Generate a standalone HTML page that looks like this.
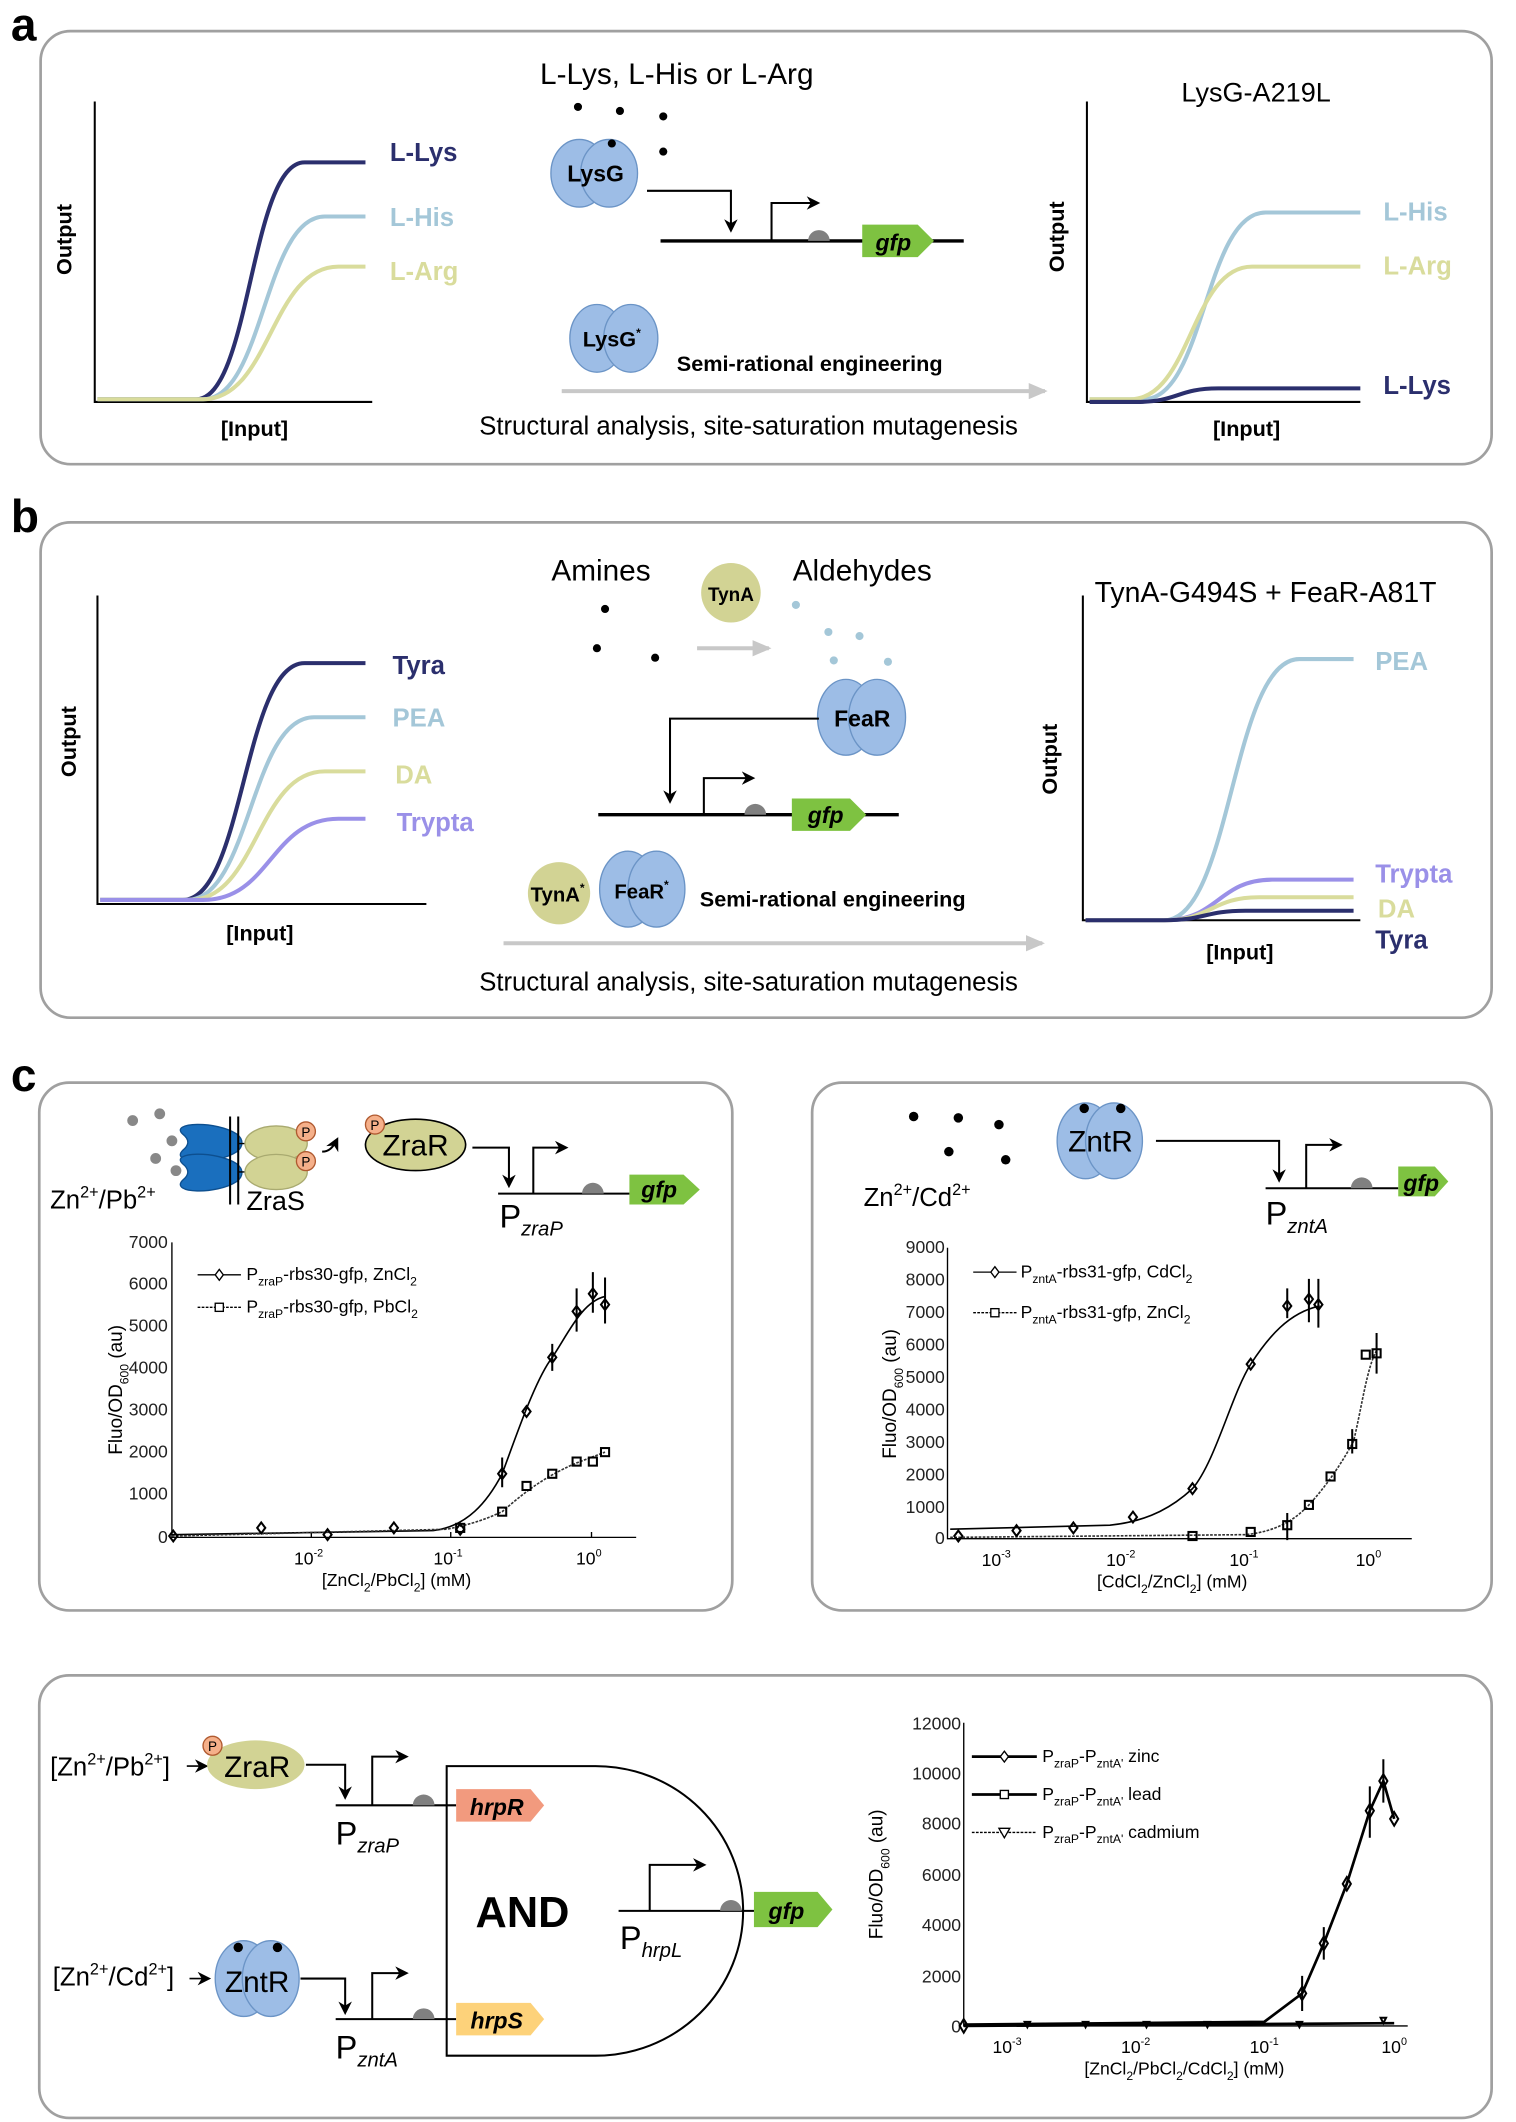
<!DOCTYPE html>
<html><head><meta charset="utf-8"><style>
html,body{margin:0;padding:0;background:#fff;}
svg{display:block;}
text{font-family:"Liberation Sans",Arial,sans-serif;}
</style></head><body>
<svg width="1516" height="2122" viewBox="0 0 1120 1568" preserveAspectRatio="none" xmlns="http://www.w3.org/2000/svg">
<defs>
<marker id="ah" markerWidth="10" markerHeight="10" refX="8" refY="5" orient="auto" markerUnits="userSpaceOnUse"><path d="M0,0 L10,5 L0,10 L3,5 z" fill="#000"/></marker>
<marker id="ahg" markerWidth="14" markerHeight="12" refX="12" refY="6" orient="auto" markerUnits="userSpaceOnUse"><path d="M0,0 L14,6 L0,12 z" fill="#c8c8c8"/></marker>
</defs>

<!-- PANEL A -->
<text x="8" y="30" font-size="34" font-weight="bold">a</text>
<rect x="30" y="23" width="1072" height="320" rx="22" fill="none" stroke="#a0a0a0" stroke-width="2"/>
<g stroke="#000" stroke-width="1.5" fill="none"><path d="M70,75 V297 H275"/></g>
<text transform="translate(53,177) rotate(-90)" text-anchor="middle" font-size="16" font-weight="bold">Output</text>
<text x="188" y="322" text-anchor="middle" font-size="16" font-weight="bold">[Input]</text>
<g fill="none" stroke-width="3">
<path d="M72,295 L145,295 C185,295 185,120 225,120 L270,120" stroke="#2b2f6d"/>
<path d="M72,295 L150,295 C195,295 195,160 240,160 L270,160" stroke="#a4c7d8"/>
<path d="M72,295 L150,295 C200,295 200,197 250,197 L270,197" stroke="#d9dc9c"/>
</g>
<text x="288" y="119" font-size="19" font-weight="bold" fill="#2b2f6d">L-Lys</text>
<text x="288" y="167" font-size="19" font-weight="bold" fill="#a4c7d8">L-His</text>
<text x="288" y="207" font-size="19" font-weight="bold" fill="#d9dc9c">L-Arg</text>

<text x="500" y="62" text-anchor="middle" font-size="22">L-Lys, L-His or L-Arg</text>
<g fill="#000"><circle cx="427" cy="79" r="3"/><circle cx="458" cy="82" r="3"/><circle cx="490" cy="86" r="3"/><circle cx="490" cy="112" r="3"/></g>
<g fill="#9dbde6" stroke="#6b94c6" stroke-width="1"><ellipse cx="428" cy="128" rx="21" ry="25"/><ellipse cx="450" cy="128" rx="21" ry="25"/></g>
<circle cx="452" cy="106" r="3"/>
<text x="440" y="134" text-anchor="middle" font-size="17" font-weight="bold">LysG</text>
<path d="M478,141 H540 V170" fill="none" stroke="#000" stroke-width="1.5" marker-end="url(#ah)"/>
<path d="M488,178 H712" stroke="#000" stroke-width="2.5"/>
<path d="M570,178 V150 H604" fill="none" stroke="#000" stroke-width="1.5" marker-end="url(#ah)"/>
<path d="M597,178 A8,8 0 0 1 613,178 z" fill="#808080"/>
<path d="M637,166 H678 L690,178 L678,190 H637 z" fill="#7ec241"/>
<text x="660" y="185" text-anchor="middle" font-size="17" font-weight="bold" font-style="italic">gfp</text>
<g fill="#9dbde6" stroke="#6b94c6"><ellipse cx="441" cy="250" rx="20" ry="25"/><ellipse cx="466" cy="250" rx="20" ry="25"/></g>
<text x="452" y="256" text-anchor="middle" font-size="16" font-weight="bold">LysG<tspan font-size="9" dy="-7">*</tspan></text>
<text x="500" y="274" font-size="16" font-weight="bold">Semi-rational engineering</text>
<path d="M415,289 H772" stroke="#c8c8c8" stroke-width="3" marker-end="url(#ahg)"/>
<text x="553" y="321" text-anchor="middle" font-size="19">Structural analysis, site-saturation mutagenesis</text>

<text x="928" y="75" text-anchor="middle" font-size="20">LysG-A219L</text>
<path d="M803,75 V297 H1005" fill="none" stroke="#000" stroke-width="1.5"/>
<text transform="translate(786,175) rotate(-90)" text-anchor="middle" font-size="16" font-weight="bold">Output</text>
<text x="921" y="322" text-anchor="middle" font-size="16" font-weight="bold">[Input]</text>
<g fill="none" stroke-width="3">
<path d="M805,295 L845,295 C890,295 890,157 935,157 L1005,157" stroke="#a4c7d8"/>
<path d="M805,295 L835,295 C880,295 880,197 925,197 L1005,197" stroke="#d9dc9c"/>
<path d="M805,297 L840,297 C870,297 870,287 900,287 L1005,287" stroke="#2b2f6d"/>
</g>
<text x="1022" y="163" font-size="19" font-weight="bold" fill="#a4c7d8">L-His</text>
<text x="1022" y="203" font-size="19" font-weight="bold" fill="#d9dc9c">L-Arg</text>
<text x="1022" y="291" font-size="19" font-weight="bold" fill="#2b2f6d">L-Lys</text>

<!-- PANEL B -->
<text x="8" y="393" font-size="34" font-weight="bold">b</text>
<rect x="30" y="386" width="1072" height="366" rx="22" fill="none" stroke="#a0a0a0" stroke-width="2"/>
<path d="M72,440 V668 H315" fill="none" stroke="#000" stroke-width="1.5"/>
<text transform="translate(56,548) rotate(-90)" text-anchor="middle" font-size="16" font-weight="bold">Output</text>
<text x="192" y="695" text-anchor="middle" font-size="16" font-weight="bold">[Input]</text>
<g fill="none" stroke-width="3">
<path d="M74,665 L135,665 C180,665 180,490 225,490 L270,490" stroke="#2b2f6d"/>
<path d="M74,665 L138,665 C185,665 185,530 232,530 L270,530" stroke="#a4c7d8"/>
<path d="M74,665 L140,665 C190,665 190,570 240,570 L270,570" stroke="#d9dc9c"/>
<path d="M74,665 L150,665 C200,665 200,605 250,605 L270,605" stroke="#9a90e8"/>
</g>
<text x="290" y="498" font-size="19" font-weight="bold" fill="#2b2f6d">Tyra</text>
<text x="290" y="537" font-size="19" font-weight="bold" fill="#a4c7d8">PEA</text>
<text x="292" y="579" font-size="19" font-weight="bold" fill="#d9dc9c">DA</text>
<text x="293" y="614" font-size="19" font-weight="bold" fill="#9a90e8">Trypta</text>

<text x="444" y="429" text-anchor="middle" font-size="22">Amines</text>
<text x="637" y="429" text-anchor="middle" font-size="22">Aldehydes</text>
<g fill="#000"><circle cx="447" cy="450" r="3"/><circle cx="441" cy="479" r="3"/><circle cx="484" cy="486" r="3"/></g>
<circle cx="540" cy="438" r="22" fill="#d2d394"/>
<text x="540" y="444" text-anchor="middle" font-size="14" font-weight="bold">TynA</text>
<path d="M515,479 H568" stroke="#c8c8c8" stroke-width="3" marker-end="url(#ahg)"/>
<g fill="#a4c7d8"><circle cx="588" cy="447" r="3"/><circle cx="612" cy="467" r="3"/><circle cx="635" cy="470" r="3"/><circle cx="616" cy="488" r="3"/><circle cx="656" cy="489" r="3"/></g>
<g fill="#9dbde6" stroke="#6b94c6"><ellipse cx="625" cy="530" rx="21" ry="28"/><ellipse cx="648" cy="530" rx="21" ry="28"/></g>
<text x="637" y="537" text-anchor="middle" font-size="17" font-weight="bold">FeaR</text>
<path d="M605,531 H495 V592" fill="none" stroke="#000" stroke-width="1.5" marker-end="url(#ah)"/>
<path d="M442,602 H664" stroke="#000" stroke-width="2.5"/>
<path d="M520,602 V575 H556" fill="none" stroke="#000" stroke-width="1.5" marker-end="url(#ah)"/>
<path d="M550,602 A8,8 0 0 1 566,602 z" fill="#808080"/>
<path d="M585,590 H628 L640,602 L628,614 H585 z" fill="#7ec241"/>
<text x="610" y="608" text-anchor="middle" font-size="17" font-weight="bold" font-style="italic">gfp</text>
<circle cx="413" cy="660" r="23" fill="#d2d394"/>
<text x="412" y="666" text-anchor="middle" font-size="15" font-weight="bold">TynA<tspan font-size="9" dy="-7">*</tspan></text>
<g fill="#9dbde6" stroke="#6b94c6"><ellipse cx="464" cy="657" rx="21" ry="28"/><ellipse cx="485" cy="657" rx="21" ry="28"/></g>
<text x="474" y="664" text-anchor="middle" font-size="15" font-weight="bold">FeaR<tspan font-size="9" dy="-7">*</tspan></text>
<text x="517" y="670" font-size="16" font-weight="bold">Semi-rational engineering</text>
<path d="M372,697 H770" stroke="#c8c8c8" stroke-width="3" marker-end="url(#ahg)"/>
<text x="553" y="732" text-anchor="middle" font-size="19">Structural analysis, site-saturation mutagenesis</text>

<text x="935" y="445" text-anchor="middle" font-size="21">TynA-G494S + FeaR-A81T</text>
<path d="M800,440 V680 H1005" fill="none" stroke="#000" stroke-width="1.5"/>
<text transform="translate(781,561) rotate(-90)" text-anchor="middle" font-size="16" font-weight="bold">Output</text>
<text x="916" y="709" text-anchor="middle" font-size="16" font-weight="bold">[Input]</text>
<g fill="none" stroke-width="3">
<path d="M802,680 L860,680 C910,680 910,487 960,487 L1000,487" stroke="#a4c7d8"/>
<path d="M802,680 L860,680 C900,680 900,650 940,650 L1000,650" stroke="#9a90e8"/>
<path d="M802,680 L860,680 C895,680 895,663 930,663 L1000,663" stroke="#d9dc9c"/>
<path d="M802,680 L860,680 C890,680 890,673 920,673 L1000,673" stroke="#2b2f6d"/>
</g>
<text x="1016" y="495" font-size="19" font-weight="bold" fill="#a4c7d8">PEA</text>
<text x="1016" y="652" font-size="19" font-weight="bold" fill="#9a90e8">Trypta</text>
<text x="1018" y="678" font-size="19" font-weight="bold" fill="#d9dc9c">DA</text>
<text x="1016" y="701" font-size="19" font-weight="bold" fill="#2b2f6d">Tyra</text>

<!-- PANEL C -->
<text x="8" y="806" font-size="34" font-weight="bold">c</text>
<rect x="29" y="800" width="512" height="390" rx="22" fill="none" stroke="#a0a0a0" stroke-width="2"/>
<rect x="600" y="800" width="502" height="390" rx="22" fill="none" stroke="#a0a0a0" stroke-width="2"/>

<!-- c left diagram -->
<g fill="#888"><circle cx="98" cy="828" r="4"/><circle cx="118" cy="823" r="4"/><circle cx="127" cy="843" r="4"/><circle cx="115" cy="856" r="4"/><circle cx="130" cy="865" r="4"/></g>
<path d="M135,838 C125,829 160,828 175,838 C180,842 180,847 175,851 C160,861 125,860 135,850 C140,846 140,842 135,838z" fill="#1a6fbe" stroke="#0d4f8f"/>
<path d="M135,860 C125,851 160,850 175,860 C180,864 180,869 175,873 C160,883 125,882 135,872 C140,868 140,864 135,860z" fill="#1a6fbe" stroke="#0d4f8f"/>
<path d="M170,825 V890 M176,825 V890" stroke="#000" stroke-width="1.5"/>
<path d="M176,845 H183 M176,866 H183" stroke="#000"/>
<ellipse cx="204" cy="845" rx="23" ry="13" fill="#d2d394" stroke="#a9aa70"/>
<ellipse cx="204" cy="866" rx="23" ry="13" fill="#d2d394" stroke="#a9aa70"/>
<circle cx="226" cy="836" r="7" fill="#f5b08a" stroke="#b05a30"/><text x="226" y="840" text-anchor="middle" font-size="10">P</text>
<circle cx="226" cy="858" r="7" fill="#f5b08a" stroke="#b05a30"/><text x="226" y="862" text-anchor="middle" font-size="10">P</text>
<text x="37" y="893" font-size="19">Zn<tspan font-size="12" dy="-8">2+</tspan><tspan dy="8">/Pb</tspan><tspan font-size="12" dy="-8">2+</tspan></text>
<text x="182" y="894" font-size="20">ZraS</text>
<path d="M238,851 C243,851 246,848 249,842" fill="none" stroke="#000" stroke-width="1.5" marker-end="url(#ah)"/>
<ellipse cx="307" cy="846" rx="37" ry="19" fill="#d2d394" stroke="#000" stroke-width="1.2"/>
<circle cx="277" cy="831" r="7" fill="#f5b08a" stroke="#b05a30"/><text x="277" y="835" text-anchor="middle" font-size="10">P</text>
<text x="307" y="854" text-anchor="middle" font-size="22">ZraR</text>
<path d="M349,848 H376 V876" fill="none" stroke="#000" stroke-width="1.5" marker-end="url(#ah)"/>
<path d="M368,882 H465" stroke="#000" stroke-width="1.5"/>
<path d="M394,882 V848 H418" fill="none" stroke="#000" stroke-width="1.5" marker-end="url(#ah)"/>
<path d="M430,882 A8,8 0 0 1 446,882 z" fill="#808080"/>
<path d="M465,868 H505 L517,879 L505,890 H465 z" fill="#7ec241"/>
<text x="487" y="885" text-anchor="middle" font-size="17" font-weight="bold" font-style="italic">gfp</text>
<text x="369" y="907" font-size="24">P<tspan font-size="15" font-style="italic" dy="6">zraP</tspan></text>

<!-- c left graph -->
<g font-size="13" fill="#222" text-anchor="end">
<text x="124" y="922">7000</text><text x="124" y="953">6000</text><text x="124" y="984">5000</text><text x="124" y="1015">4000</text><text x="124" y="1046">3000</text><text x="124" y="1077">2000</text><text x="124" y="1108">1000</text><text x="124" y="1140">0</text>
</g>
<path d="M127,918 V1136 H470" fill="none" stroke="#000" stroke-width="1"/>
<g stroke="#000"><path d="M230,1136 v-4 M333,1136 v-4 M437,1136 v-4"/></g>
<g font-size="13" text-anchor="middle"><text x="228" y="1156">10<tspan font-size="8" dy="-6">-2</tspan></text><text x="331" y="1156">10<tspan font-size="8" dy="-6">-1</tspan></text><text x="435" y="1156">10<tspan font-size="8" dy="-6">0</tspan></text></g>
<text x="293" y="1172" text-anchor="middle" font-size="13">[ZnCl<tspan font-size="9" dy="4">2</tspan><tspan dy="-4">/PbCl</tspan><tspan font-size="9" dy="4">2</tspan><tspan dy="-4">] (mM)</tspan></text>
<text transform="translate(90,1027) rotate(-90)" text-anchor="middle" font-size="14">Fluo/OD<tspan font-size="9" dy="5">600</tspan><tspan dy="-5"> (au)</tspan></text>
<path d="M127,1134 L320,1131 C345,1128 360,1110 371,1089 C380,1065 395,1020 408,1003 C420,985 430,962 447,958" fill="none" stroke="#000" stroke-width="1.2"/>
<path d="M127,1135 L330,1130 C350,1126 360,1122 371,1117 C385,1105 400,1092 426,1081 L447,1073" fill="none" stroke="#333" stroke-width="1.2" stroke-dasharray="2,1"/>
<g fill="none" stroke="#000" stroke-width="1.5">
<path d="M128,1131 l3,4 -3,4 -3,-4z M193,1125 l3,4 -3,4 -3,-4z M242,1130 l3,4 -3,4 -3,-4z M291,1125 l3,4 -3,4 -3,-4z M340,1126 l3,4 -3,4 -3,-4z M371,1085 l3,4 -3,4 -3,-4z M389,1039 l3,4 -3,4 -3,-4z M408,999 l3,4 -3,4 -3,-4z M426,965 l3,4 -3,4 -3,-4z M438,952 l3,4 -3,4 -3,-4z M447,960 l3,4 -3,4 -3,-4z"/>
<path d="M371,1077 v22 M408,993 v20 M426,952 v32 M438,940 v30 M447,944 v34"/>
<rect x="368" y="1114" width="6" height="6"/><rect x="386" y="1095" width="6" height="6"/><rect x="405" y="1086" width="6" height="6"/><rect x="423" y="1077" width="6" height="6"/><rect x="435" y="1077" width="6" height="6"/><rect x="444" y="1070" width="6" height="6"/><rect x="337" y="1126" width="6" height="6"/>
</g>
<g font-size="13"><path d="M146,942 H178" stroke="#000"/><path d="M162,938 l3,4 -3,4 -3,-4z" fill="#fff" stroke="#000"/>
<text x="182" y="946">P<tspan font-size="9" dy="4">zraP</tspan><tspan dy="-4">-rbs30-gfp, ZnCl</tspan><tspan font-size="9" dy="4">2</tspan></text>
<path d="M146,966 H178" stroke="#000" stroke-dasharray="2,1"/><rect x="159" y="963" width="6" height="6" fill="#fff" stroke="#000"/>
<text x="182" y="970">P<tspan font-size="9" dy="4">zraP</tspan><tspan dy="-4">-rbs30-gfp, PbCl</tspan><tspan font-size="9" dy="4">2</tspan></text></g>

<!-- c right diagram -->
<g fill="#000"><circle cx="675" cy="825" r="3.5"/><circle cx="708" cy="826" r="3.5"/><circle cx="738" cy="831" r="3.5"/><circle cx="701" cy="851" r="3.5"/><circle cx="743" cy="857" r="3.5"/></g>
<text x="638" y="891" font-size="19">Zn<tspan font-size="12" dy="-8">2+</tspan><tspan dy="8">/Cd</tspan><tspan font-size="12" dy="-8">2+</tspan></text>
<g fill="#9dbde6" stroke="#6b94c6"><ellipse cx="802" cy="843" rx="21" ry="28"/><ellipse cx="823" cy="843" rx="21" ry="28"/></g>
<circle cx="801" cy="819" r="3.5"/><circle cx="828" cy="819" r="3.5"/>
<text x="813" y="851" text-anchor="middle" font-size="22">ZntR</text>
<path d="M854,843 H945 V872" fill="none" stroke="#000" stroke-width="1.5" marker-end="url(#ah)"/>
<path d="M935,878 H1033" stroke="#000" stroke-width="1.5"/>
<path d="M965,878 V846 H990" fill="none" stroke="#000" stroke-width="1.5" marker-end="url(#ah)"/>
<path d="M998,878 A8,8 0 0 1 1014,878 z" fill="#808080"/>
<path d="M1033,862 H1060 L1070,873 L1060,884 H1033 z" fill="#7ec241"/>
<text x="1050" y="880" text-anchor="middle" font-size="17" font-weight="bold" font-style="italic">gfp</text>
<text x="935" y="905" font-size="24">P<tspan font-size="15" font-style="italic" dy="6">zntA</tspan></text>

<g font-size="13" fill="#222" text-anchor="end">
<text x="698" y="926">9000</text><text x="698" y="950">8000</text><text x="698" y="974">7000</text><text x="698" y="998">6000</text><text x="698" y="1022">5000</text><text x="698" y="1046">4000</text><text x="698" y="1070">3000</text><text x="698" y="1094">2000</text><text x="698" y="1118">1000</text><text x="698" y="1141">0</text>
</g>
<path d="M700,922 V1137 H1043" fill="none" stroke="#000" stroke-width="1"/>
<g font-size="13" text-anchor="middle"><text x="736" y="1157">10<tspan font-size="8" dy="-6">-3</tspan></text><text x="828" y="1157">10<tspan font-size="8" dy="-6">-2</tspan></text><text x="919" y="1157">10<tspan font-size="8" dy="-6">-1</tspan></text><text x="1011" y="1157">10<tspan font-size="8" dy="-6">0</tspan></text></g>
<text x="866" y="1173" text-anchor="middle" font-size="13">[CdCl<tspan font-size="9" dy="4">2</tspan><tspan dy="-4">/ZnCl</tspan><tspan font-size="9" dy="4">2</tspan><tspan dy="-4">] (mM)</tspan></text>
<text transform="translate(662,1030) rotate(-90)" text-anchor="middle" font-size="14">Fluo/OD<tspan font-size="9" dy="5">600</tspan><tspan dy="-5"> (au)</tspan></text>
<path d="M702,1130 L820,1127 C850,1124 868,1112 881,1100 C898,1080 910,1030 924,1008 C937,988 952,970 975,965" fill="none" stroke="#000" stroke-width="1.2"/>
<path d="M702,1136 L920,1134 C940,1132 955,1125 967,1112 C980,1098 992,1080 1000,1065 C1006,1040 1010,1010 1017,998" fill="none" stroke="#333" stroke-width="1.2" stroke-dasharray="2,1"/>
<g fill="none" stroke="#000" stroke-width="1.5">
<path d="M708,1131 l3,4 -3,4 -3,-4z M751,1127 l3,4 -3,4 -3,-4z M793,1125 l3,4 -3,4 -3,-4z M837,1117 l3,4 -3,4 -3,-4z M881,1096 l3,4 -3,4 -3,-4z M924,1004 l3,4 -3,4 -3,-4z M951,961 l3,4 -3,4 -3,-4z M967,956 l3,4 -3,4 -3,-4z M974,960 l3,4 -3,4 -3,-4z"/>
<path d="M951,952 v22 M967,945 v32 M974,945 v36"/>
<rect x="878" y="1132" width="6" height="6"/><rect x="921" y="1129" width="6" height="6"/><rect x="948" y="1124" width="6" height="6"/><rect x="964" y="1109" width="6" height="6"/><rect x="980" y="1088" width="6" height="6"/><rect x="996" y="1064" width="6" height="6"/><rect x="1006" y="998" width="6" height="6"/><rect x="1014" y="997" width="6" height="6"/>
<path d="M951,1118 v20 M999,1056 v18 M1017,985 v30"/>
</g>
<g font-size="13"><path d="M719,940 H751" stroke="#000"/><path d="M735,936 l3,4 -3,4 -3,-4z" fill="#fff" stroke="#000"/>
<text x="754" y="944">P<tspan font-size="9" dy="4">zntA</tspan><tspan dy="-4">-rbs31-gfp, CdCl</tspan><tspan font-size="9" dy="4">2</tspan></text>
<path d="M719,970 H751" stroke="#000" stroke-dasharray="2,1"/><rect x="732" y="967" width="6" height="6" fill="#fff" stroke="#000"/>
<text x="754" y="974">P<tspan font-size="9" dy="4">zntA</tspan><tspan dy="-4">-rbs31-gfp, ZnCl</tspan><tspan font-size="9" dy="4">2</tspan></text></g>

<!-- bottom panel -->
<rect x="29" y="1238" width="1073" height="327" rx="22" fill="none" stroke="#a0a0a0" stroke-width="2"/>
<text x="37" y="1312" font-size="19">[Zn<tspan font-size="12" dy="-8">2+</tspan><tspan dy="8">/Pb</tspan><tspan font-size="12" dy="-8">2+</tspan><tspan dy="8">]</tspan></text>
<path d="M138,1305 H152" stroke="#000" stroke-width="1.2" marker-end="url(#ah)"/>
<ellipse cx="189" cy="1304" rx="36" ry="18" fill="#d2d394"/>
<circle cx="157" cy="1290" r="7" fill="#f5b08a" stroke="#b05a30"/><text x="157" y="1294" text-anchor="middle" font-size="10">P</text>
<text x="190" y="1313" text-anchor="middle" font-size="22">ZraR</text>
<path d="M226,1304 H255 V1328" fill="none" stroke="#000" stroke-width="1.5" marker-end="url(#ah)"/>
<path d="M248,1334 H337" stroke="#000" stroke-width="1.5"/>
<path d="M275,1334 V1298 H300" fill="none" stroke="#000" stroke-width="1.5" marker-end="url(#ah)"/>
<path d="M305,1334 A8,8 0 0 1 321,1334 z" fill="#808080"/>
<path d="M337,1322 H392 L402,1334 L392,1346 H337 z" fill="#f29a7e"/>
<text x="367" y="1341" text-anchor="middle" font-size="17" font-weight="bold" font-style="italic">hrpR</text>
<text x="248" y="1363" font-size="24">P<tspan font-size="15" font-style="italic" dy="6">zraP</tspan></text>

<text x="39" y="1467" font-size="19">[Zn<tspan font-size="12" dy="-8">2+</tspan><tspan dy="8">/Cd</tspan><tspan font-size="12" dy="-8">2+</tspan><tspan dy="8">]</tspan></text>
<path d="M140,1462 H154" stroke="#000" stroke-width="1.2" marker-end="url(#ah)"/>
<g fill="#9dbde6" stroke="#6b94c6"><ellipse cx="180" cy="1462" rx="21" ry="28"/><ellipse cx="200" cy="1462" rx="21" ry="28"/></g>
<circle cx="176" cy="1439" r="3.5"/><circle cx="205" cy="1439" r="3.5"/>
<text x="190" y="1472" text-anchor="middle" font-size="22">ZntR</text>
<path d="M222,1462 H255 V1487" fill="none" stroke="#000" stroke-width="1.5" marker-end="url(#ah)"/>
<path d="M248,1492 H337" stroke="#000" stroke-width="1.5"/>
<path d="M275,1492 V1458 H300" fill="none" stroke="#000" stroke-width="1.5" marker-end="url(#ah)"/>
<path d="M305,1492 A8,8 0 0 1 321,1492 z" fill="#808080"/>
<path d="M337,1480 H392 L402,1492 L392,1504 H337 z" fill="#fdd27a"/>
<text x="367" y="1499" text-anchor="middle" font-size="17" font-weight="bold" font-style="italic">hrpS</text>
<text x="248" y="1521" font-size="24">P<tspan font-size="15" font-style="italic" dy="6">zntA</tspan></text>

<path d="M330,1305 H440 A109,107 0 0 1 440,1519 H330 Z" fill="none" stroke="#000" stroke-width="1.5"/>
<text x="386" y="1424" text-anchor="middle" font-size="32" font-weight="bold">AND</text>
<path d="M457,1412 H604" stroke="#000" stroke-width="1.5"/>
<path d="M480,1412 V1378 H520" fill="none" stroke="#000" stroke-width="1.5" marker-end="url(#ah)"/>
<path d="M532,1412 A8,8 0 0 1 548,1412 z" fill="#808080"/>
<path d="M557,1398 H604 L615,1411 L604,1424 H557 z" fill="#7ec241"/>
<text x="581" y="1418" text-anchor="middle" font-size="17" font-weight="bold" font-style="italic">gfp</text>
<text x="458" y="1440" font-size="24">P<tspan font-size="15" font-style="italic" dy="6">hrpL</tspan></text>

<g font-size="13" fill="#222" text-anchor="end">
<text x="710" y="1278">12000</text><text x="710" y="1315">10000</text><text x="710" y="1352">8000</text><text x="710" y="1390">6000</text><text x="710" y="1427">4000</text><text x="710" y="1465">2000</text><text x="710" y="1502">0</text>
</g>
<path d="M712,1273 V1497 H1040" fill="none" stroke="#000" stroke-width="1"/>
<g font-size="13" text-anchor="middle"><text x="744" y="1517">10<tspan font-size="8" dy="-6">-3</tspan></text><text x="839" y="1517">10<tspan font-size="8" dy="-6">-2</tspan></text><text x="934" y="1517">10<tspan font-size="8" dy="-6">-1</tspan></text><text x="1030" y="1517">10<tspan font-size="8" dy="-6">0</tspan></text></g>
<text x="875" y="1533" text-anchor="middle" font-size="13">[ZnCl<tspan font-size="9" dy="4">2</tspan><tspan dy="-4">/PbCl</tspan><tspan font-size="9" dy="4">2</tspan><tspan dy="-4">/CdCl</tspan><tspan font-size="9" dy="4">2</tspan><tspan dy="-4">] (mM)</tspan></text>
<text transform="translate(652,1385) rotate(-90)" text-anchor="middle" font-size="14">Fluo/OD<tspan font-size="9" dy="5">600</tspan><tspan dy="-5"> (au)</tspan></text>
<path d="M712,1496 L934,1494 L962,1473 L978,1436 L995,1392 L1012,1338 L1022,1316 L1030,1344" fill="none" stroke="#000" stroke-width="2"/>
<path d="M712,1497 L1030,1495" fill="none" stroke="#000" stroke-width="2"/>
<g fill="none" stroke="#000" stroke-width="1.5">
<path d="M962,1468 l3,5 -3,5 -3,-5z M978,1431 l3,5 -3,5 -3,-5z M995,1387 l3,5 -3,5 -3,-5z M1012,1333 l3,5 -3,5 -3,-5z M1022,1311 l3,5 -3,5 -3,-5z M1030,1339 l3,5 -3,5 -3,-5z M712,1492 l3,5 -3,5 -3,-5z"/>
<path d="M962,1460 v26 M978,1424 v24 M1012,1320 v38 M1022,1300 v32"/>
<path d="M757,1494 l4,0 -2,4z M800,1494 l4,0 -2,4z M845,1494 l4,0 -2,4z M890,1494 l4,0 -2,4z M958,1494 l4,0 -2,4z M1020,1491 l4,0 -2,4z"/>
</g>
<g font-size="13"><path d="M718,1298 H766" stroke="#000" stroke-width="2"/><path d="M742,1294 l3,4 -3,4 -3,-4z" fill="#fff" stroke="#000"/>
<text x="770" y="1302">P<tspan font-size="9" dy="4">zraP</tspan><tspan dy="-4">-P</tspan><tspan font-size="9" dy="4">zntA'</tspan><tspan dy="-4"> zinc</tspan></text>
<path d="M718,1326 H766" stroke="#000" stroke-width="2"/><rect x="739" y="1323" width="6" height="6" fill="#fff" stroke="#000"/>
<text x="770" y="1330">P<tspan font-size="9" dy="4">zraP</tspan><tspan dy="-4">-P</tspan><tspan font-size="9" dy="4">zntA'</tspan><tspan dy="-4"> lead</tspan></text>
<path d="M718,1354 H766" stroke="#000" stroke-dasharray="2,1"/><path d="M738,1351 h8 l-4,7z" fill="#fff" stroke="#000"/>
<text x="770" y="1358">P<tspan font-size="9" dy="4">zraP</tspan><tspan dy="-4">-P</tspan><tspan font-size="9" dy="4">zntA'</tspan><tspan dy="-4"> cadmium</tspan></text></g>
</svg>
</body></html>
